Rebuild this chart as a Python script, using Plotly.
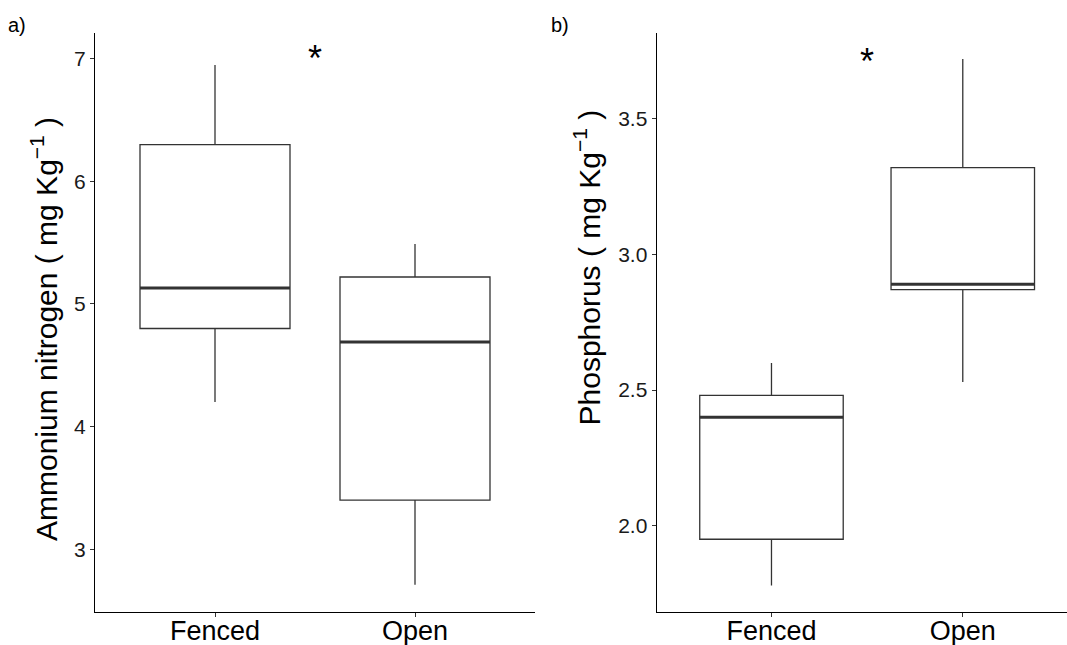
import plotly.graph_objects as go

# ---- data ----
groups = ["Fenced", "Open"]
group_pos = [1, 2]

# a) Ammonium nitrogen
nh4_lower = [4.20, 2.71]
nh4_q1 = [4.80, 3.40]
nh4_median = [5.13, 4.69]
nh4_q3 = [6.30, 5.22]
nh4_upper = [6.95, 5.49]
nh4_ticks = [3, 4, 5, 6, 7]
nh4_star = (1.5, 7.07)

# b) Phosphorus
p_lower = [1.78, 2.53]
p_q1 = [1.95, 2.87]
p_median = [2.40, 2.89]
p_q3 = [2.48, 3.32]
p_upper = [2.60, 3.72]
p_ticks = [2.0, 2.5, 3.0, 3.5]
p_ticktext = ["2.0", "2.5", "3.0", "3.5"]
p_star = (1.5, 3.74)

BOX_W = 0.75
LINE_C = "#333333"
FONT = "Liberation Sans, Arial, Helvetica, sans-serif"

fig = go.Figure()


def add_panel(fig, xa, ya, lower, q1, med, q3, upper):
    fig.add_trace(go.Box(
        x=group_pos, q1=q1, median=med, q3=q3,
        lowerfence=lower, upperfence=upper,
        width=BOX_W, whiskerwidth=0, boxpoints=False,
        fillcolor="white", line=dict(color=LINE_C, width=1.3),
        xaxis=xa, yaxis=ya, showlegend=False, hoverinfo="skip",
    ))
    # thicker median segments
    for xp, m in zip(group_pos, med):
        fig.add_trace(go.Scatter(
            x=[xp - BOX_W / 2, xp + BOX_W / 2], y=[m, m], mode="lines",
            line=dict(color=LINE_C, width=3), xaxis=xa, yaxis=ya,
            showlegend=False, hoverinfo="skip",
        ))


add_panel(fig, "x", "y", nh4_lower, nh4_q1, nh4_median, nh4_q3, nh4_upper)
add_panel(fig, "x2", "y2", p_lower, p_q1, p_median, p_q3, p_upper)

W, H = 1067, 645
ydom = [1 - 611.7 / H, 1 - 33 / H]

axis_common = dict(
    showline=True, linecolor="black", linewidth=1.3, mirror=False,
    showgrid=False, zeroline=False, ticks="outside", ticklen=4,
    tickwidth=1, tickcolor=LINE_C, automargin=False,
)

fig.update_layout(
    template="none",
    width=W, height=H, margin=dict(l=0, r=0, t=0, b=0, pad=0, autoexpand=False),
    paper_bgcolor="white", plot_bgcolor="white",
    font=dict(family=FONT, color="black"),
    xaxis=dict(domain=[95 / W, 535 / W], range=[0.4, 2.6],
               tickvals=group_pos, ticktext=groups, ticklabelstandoff=-9,
               tickfont=dict(size=27, color="black", family=FONT),
               anchor="y", **axis_common),
    yaxis=dict(domain=ydom, range=[2.49, 7.21], tickvals=nh4_ticks,
               tickfont=dict(size=21, color="#1a1a1a", family=FONT),
               anchor="x", **axis_common),
    xaxis2=dict(domain=[656.7 / W, 1.0], range=[0.4, 0.4 + 410.3 / 191.3],
                tickvals=group_pos, ticktext=groups, ticklabelstandoff=-9,
                tickfont=dict(size=27, color="black", family=FONT),
                anchor="y2", **axis_common),
    yaxis2=dict(domain=ydom, range=[1.683, 3.816], tickvals=p_ticks,
                ticktext=p_ticktext,
                tickfont=dict(size=21, color="#1a1a1a", family=FONT),
                anchor="x2", **axis_common),
)

annotations = [
    dict(text="a)", x=6 / W, y=1 - 12 / H, xref="paper", yref="paper",
         xanchor="left", yanchor="top", showarrow=False,
         font=dict(size=20, family=FONT, color="black")),
    dict(text="b)", x=549 / W, y=1 - 12 / H, xref="paper", yref="paper",
         xanchor="left", yanchor="top", showarrow=False,
         font=dict(size=20, family=FONT, color="black")),
    dict(text="Ammonium nitrogen ( mg Kg<sup>\u22121</sup> )",
         x=44 / W, y=1 - 329 / H, xref="paper", yref="paper",
         xanchor="center", yanchor="middle", textangle=-90, showarrow=False,
         font=dict(size=30, family=FONT, color="black")),
    dict(text="Phosphorus ( mg Kg<sup>\u22121</sup> )",
         x=587.5 / W, y=1 - 268 / H, xref="paper", yref="paper",
         xanchor="center", yanchor="middle", textangle=-90, showarrow=False,
         font=dict(size=30, family=FONT, color="black")),
    dict(text="*", x=nh4_star[0], y=nh4_star[1], xref="x", yref="y",
         xanchor="center", yanchor="middle", yshift=-8, showarrow=False,
         font=dict(size=36, family=FONT, color="black")),
    dict(text="*", x=p_star[0], y=p_star[1], xref="x2", yref="y2",
         xanchor="center", yanchor="middle", yshift=-8, showarrow=False,
         font=dict(size=36, family=FONT, color="black")),
]
fig.update_layout(annotations=annotations)

fig.write_html(
    "out.html",
    config={"displayModeBar": False},
    post_script="document.body.style.margin='0px';"
                "document.body.style.overflow='hidden';",
)
